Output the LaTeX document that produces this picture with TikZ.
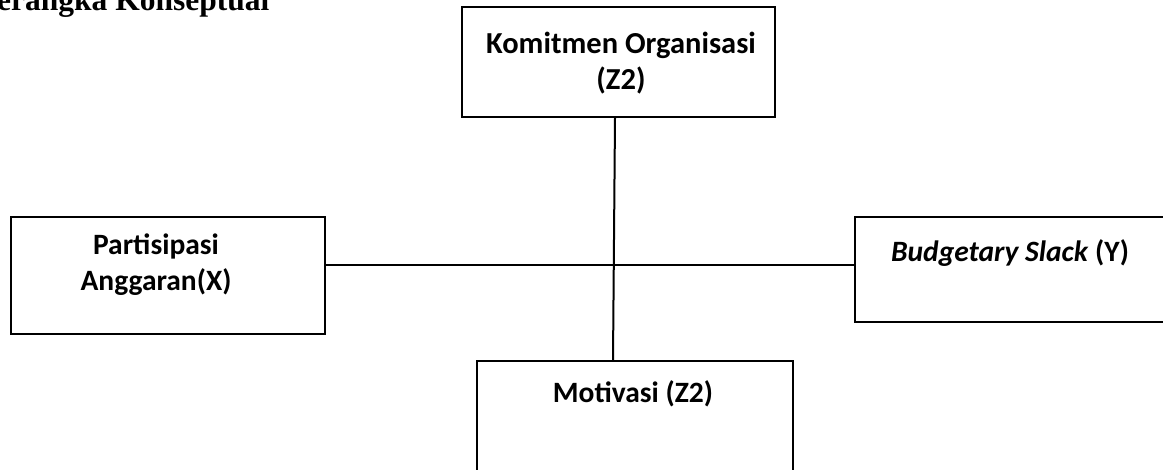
\documentclass[tikz,border=0pt]{standalone}
\usepackage{fontspec}
\setmainfont{Carlito}
\newfontfamily\titlefont{Liberation Serif}
\usepackage{tikz}
\usetikzlibrary{calc,positioning}
\tikzset{var box/.style={
    draw,
    line width=2pt,
    anchor=north west,
    minimum width=#1,
    inner sep=0pt
  },
  var box/.default=313pt,
  var text/.style={
    font=\bfseries\fontsize{29.5}{36}\selectfont,
    align=center,
    inner sep=0pt
  },
  link/.style={line width=2pt}
}

\begin{document}
\begin{tikzpicture}[x=1pt,y=-1pt]
    \useasboundingbox (0,0) rectangle (1163,470);
    \clip (0,0) rectangle (1163,470);
    \node[anchor=base west,inner sep=0pt,font=\titlefont\bfseries\fontsize{31.5}{36}\selectfont] (judul) at (-3,11) {erangka Konseptual};
    % kotak variabel
    \node[var box=313pt,minimum height=110pt] (komitmen) at (461,6) {};
    \node[var box=314pt,minimum height=117pt] (partisipasi) at (10,216) {};
    \node[var box=313pt,minimum height=105pt] (budgetary) at (854,216) {};
    \node[var box=316pt,minimum height=120pt] (motivasi) at (476,360) {};
    % label
    \node[var text,anchor=north,font=\bfseries\fontsize{30.5}{36}\selectfont] (komitmen-label) at (621,32) {Komitmen Organisasi\\(Z2)};
    \node[var text,anchor=north] (partisipasi-label) at (156,234) {Partisipasi\\Anggaran(X)};
    \node[var text,anchor=base] (budgetary-label) at (1010,262) {\textit{Budgetary Slack} (Y)};
    \node[var text,anchor=base] (motivasi-label) at (633,403) {Motivasi (Z2)};
    % garis
    \draw[link] ([yshift=10.5pt]partisipasi.east) -- ([yshift=4.5pt]budgetary.west);
    \draw[link] ([xshift=-3.5pt]komitmen.south) -- ([xshift=-22pt]motivasi.north);
\end{tikzpicture}
\end{document}
